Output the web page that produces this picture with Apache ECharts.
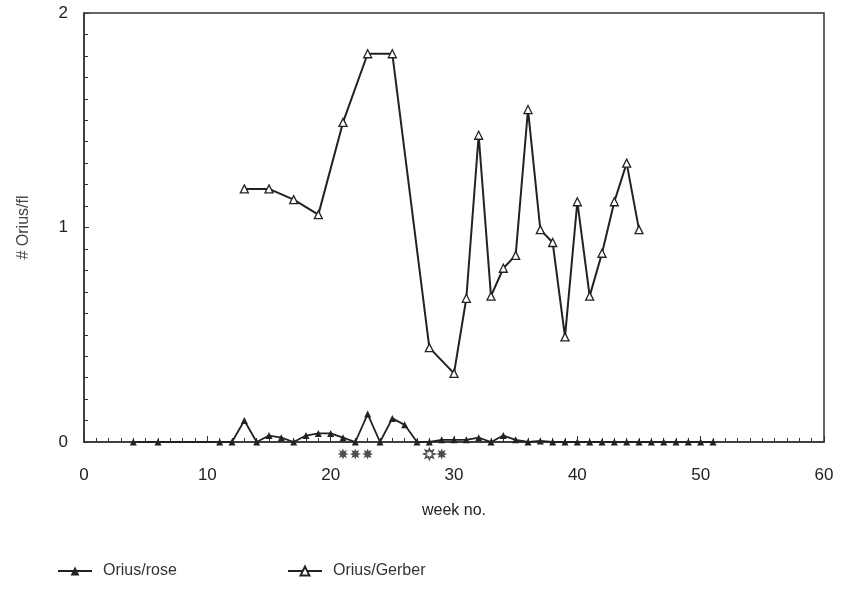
<!DOCTYPE html>
<html>
<head>
<meta charset="utf-8">
<script src="https://cdn.jsdelivr.net/npm/echarts@6/dist/echarts.min.js"></script>
<style>
  html, body { margin: 0; padding: 0; background: #fff; }
  #chart { width: 841px; height: 594px; }
</style>
</head>
<body>
<div id="chart"></div>
<script>
// Weekly Orius counts per flower on rose and Gerbera
const roseWeeks  = [4, 6, 11, 12, 13, 14, 15, 16, 17, 18, 19, 20, 21, 22, 23, 24, 25, 26, 27, 28, 29, 30,
                    31, 32, 33, 34, 35, 36, 37, 38, 39, 40, 41, 42, 43, 44, 45, 46, 47, 48, 49, 50, 51];
const roseValues = [0, 0, 0, 0, 0.10, 0, 0.03, 0.02, 0, 0.03, 0.04, 0.04, 0.02, 0, 0.13, 0, 0.11, 0.08, 0, 0, 0.01, 0.01,
                    0.01, 0.02, 0, 0.03, 0.01, 0, 0.005, 0, 0, 0, 0, 0, 0, 0, 0, 0, 0, 0, 0, 0, 0];

const gerberWeeks  = [13, 15, 17, 19, 21, 23, 25, 28, 30, 31, 32, 33, 34, 35, 36, 37, 38, 39, 40, 41, 42, 43, 44, 45];
const gerberValues = [1.18, 1.18, 1.13, 1.06, 1.49, 1.81, 1.81, 0.44, 0.32, 0.67, 1.43, 0.68, 0.81, 0.87, 1.55,
                      0.99, 0.93, 0.49, 1.12, 0.68, 0.88, 1.12, 1.30, 0.99];

// Spray weeks marked under the axis (hollow = first spray of the second group)
const sprayWeeks  = [21, 22, 23, 28, 29];
const sprayHollow = [false, false, false, true, false];
const sprayLevel  = -0.056;

const xTicks = [0, 10, 20, 30, 40, 50, 60];
const yTicks = [0, 1, 2];

const ink = '#222';
const font = 'Liberation Sans, Arial, sans-serif';

// eight-pointed burst used for spray markers
function burstPath() {
  let d = '';
  for (let k = 0; k < 16; k++) {
    const r = (k % 2 === 0) ? 10 : 5.2;
    const a = k * Math.PI / 8;
    const px = (10 + r * Math.cos(a)).toFixed(2);
    const py = (10 + r * Math.sin(a)).toFixed(2);
    d += (k === 0 ? 'M' : 'L') + px + ' ' + py + ' ';
  }
  return 'path://' + d + 'Z';
}

const pair = (xs, ys) => xs.map((x, i) => [x, ys[i]]);

const chart = echarts.init(document.getElementById('chart'), null, { renderer: 'canvas' });
chart.setOption({
  animation: false,
  backgroundColor: '#fff',
  grid: {
    left: 84, right: 17, top: 13, bottom: 152,
    show: true, borderColor: '#333', borderWidth: 1.5, backgroundColor: 'transparent'
  },
  legend: [
    {
      data: ['Orius/rose'], left: 52, top: 558, itemWidth: 34, itemHeight: 11, itemGap: 10,
      textStyle: { fontFamily: font, fontSize: 16, color: '#333', padding: [0, 0, 0, 6] }
    },
    {
      data: ['Orius/Gerber'], left: 282, top: 558, itemWidth: 34, itemHeight: 11, itemGap: 10,
      textStyle: { fontFamily: font, fontSize: 16, color: '#333', padding: [0, 0, 0, 6] }
    }
  ],
  xAxis: {
    type: 'value', min: 0, max: 60, interval: 10,
    name: 'week no.', nameLocation: 'middle', nameGap: 61,
    nameTextStyle: { fontFamily: font, fontSize: 16, color: ink },
    axisLine: { show: true, lineStyle: { color: '#333', width: 1.5 } },
    axisTick: { show: true, inside: true, length: 6, lineStyle: { color: '#333' } },
    minorTick: { show: true, splitNumber: 10, length: 4, lineStyle: { color: '#333' } },
    splitLine: { show: false },
    axisLabel: {
      margin: 25, fontFamily: font, fontSize: 17, color: ink,
      formatter: v => xTicks.includes(v) ? String(v) : ''
    }
  },
  yAxis: {
    type: 'value', min: 0, max: 2, interval: 1,
    name: '# Orius/fl', nameLocation: 'middle', nameGap: 52, nameRotate: 90,
    nameTextStyle: { fontFamily: font, fontSize: 16, color: '#444' },
    axisLine: { show: true, lineStyle: { color: '#333', width: 1.5 } },
    axisTick: { show: true, inside: true, length: 5, lineStyle: { color: '#333' } },
    minorTick: { show: true, splitNumber: 10, length: 4, lineStyle: { color: '#333' } },
    splitLine: { show: false },
    axisLabel: {
      margin: 16, fontFamily: font, fontSize: 17, color: ink,
      formatter: v => yTicks.includes(v) ? String(v) : ''
    }
  },
  series: [
    {
      name: 'Orius/rose', type: 'line', data: pair(roseWeeks, roseValues),
      symbol: 'triangle', symbolSize: 7, showSymbol: true,
      lineStyle: { color: ink, width: 1.8 },
      itemStyle: { color: ink, borderColor: ink, borderWidth: 0 },
      z: 3
    },
    {
      name: 'Orius/Gerber', type: 'line', data: pair(gerberWeeks, gerberValues),
      symbol: 'triangle', symbolSize: 8, showSymbol: true,
      lineStyle: { color: ink, width: 2 },
      itemStyle: { color: '#fff', borderColor: ink, borderWidth: 1.3 },
      z: 4
    },
    {
      name: 'spray', type: 'scatter', clip: false, silent: true,
      symbol: burstPath(), symbolSize: 11,
      data: sprayWeeks.map((w, i) => ({
        value: [w, sprayLevel],
        itemStyle: sprayHollow[i]
          ? { color: '#fff', borderColor: ink, borderWidth: 1.5 }
          : { color: ink }
      })),
      z: 5
    }
  ]
});
</script>
</body>
</html>
